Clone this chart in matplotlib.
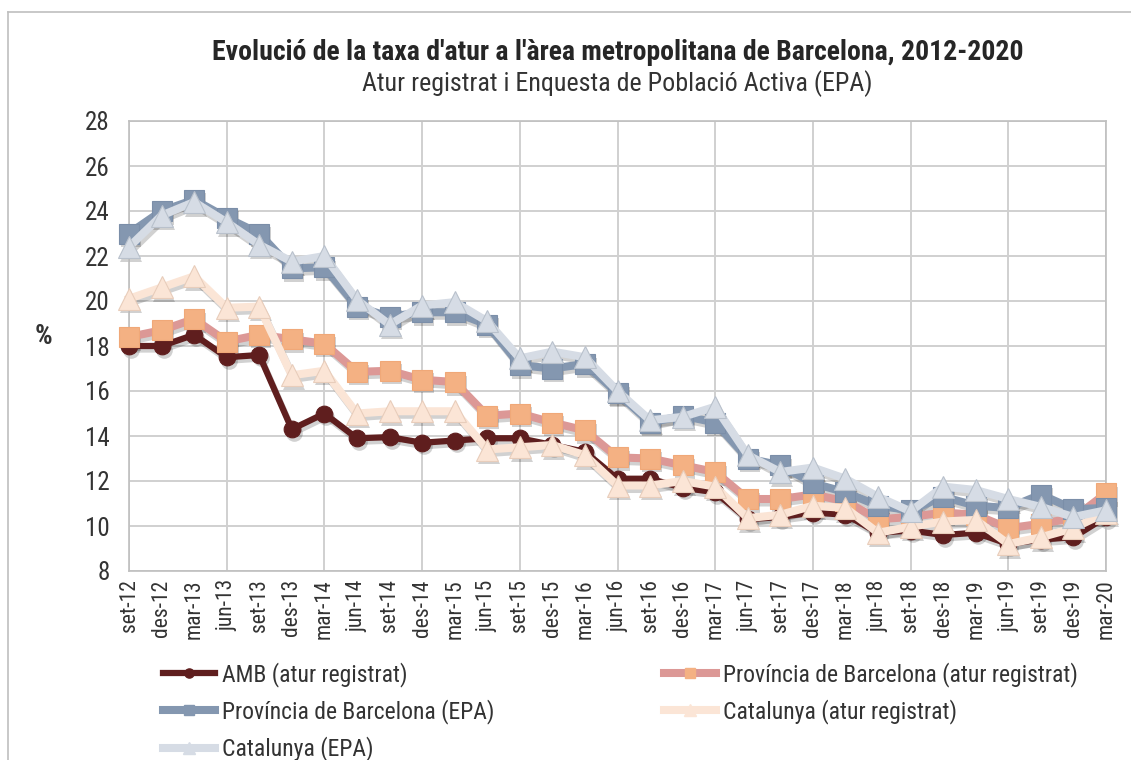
import matplotlib
matplotlib.use('Agg')
import matplotlib.pyplot as plt
from matplotlib.transforms import offset_copy
from matplotlib.lines import Line2D
from matplotlib import font_manager

periods = ['set-12', 'des-12', 'mar-13', 'jun-13', 'set-13', 'des-13', 'mar-14', 'jun-14',
           'set-14', 'des-14', 'mar-15', 'jun-15', 'set-15', 'des-15', 'mar-16', 'jun-16',
           'set-16', 'des-16', 'mar-17', 'jun-17', 'set-17', 'des-17', 'mar-18', 'jun-18',
           'set-18', 'des-18', 'mar-19', 'jun-19', 'set-19', 'des-19', 'mar-20']

amb_registrat = [18.0, 18.0, 18.5, 17.5, 17.6, 14.3, 15.0, 13.9, 13.95, 13.7, 13.8, 13.9, 13.9,
                 13.6, 13.3, 12.1, 12.1, 11.7, 11.5, 10.3, 10.4, 10.6, 10.5, 9.7, 9.8, 9.6, 9.7,
                 9.2, 9.4, 9.5, 10.4]
prov_registrat = [18.4, 18.7, 19.2, 18.2, 18.5, 18.3, 18.1, 16.85, 16.9, 16.5, 16.4, 14.9, 15.0,
                  14.6, 14.25, 13.05, 13.0, 12.7, 12.4, 11.2, 11.2, 11.4, 11.1, 10.3, 10.4, 10.6,
                  10.5, 9.9, 10.1, 10.35, 11.45]
prov_epa = [23.0, 24.0, 24.5, 23.7, 23.0, 21.45, 21.5, 19.75, 19.3, 19.5, 19.5, 18.95, 17.15,
            17.0, 17.2, 15.9, 14.6, 14.9, 14.6, 13.0, 12.7, 11.9, 11.5, 10.9, 10.7, 11.3, 10.9,
            10.8, 11.4, 10.75, 10.8]
cat_registrat = [20.1, 20.6, 21.1, 19.7, 19.75, 16.7, 16.9, 15.0, 15.1, 15.1, 15.1, 13.4, 13.5,
                 13.6, 13.15, 11.8, 11.8, 12.0, 11.75, 10.35, 10.5, 10.9, 10.8, 9.7, 9.97, 10.2,
                 10.27, 9.2, 9.5, 9.9, 10.6]
cat_epa = [22.4, 23.8, 24.4, 23.5, 22.5, 21.75, 22.0, 20.05, 18.95, 19.8, 19.95, 19.1, 17.45,
           17.75, 17.5, 16.0, 14.7, 14.85, 15.3, 13.15, 12.4, 12.6, 12.1, 11.3, 10.65, 11.75,
           11.6, 11.2, 10.85, 10.4, 10.7]

names = ['AMB (atur registrat)', 'Província de Barcelona (atur registrat)',
         'Província de Barcelona (EPA)', 'Catalunya (atur registrat)', 'Catalunya (EPA)']

# line colour, marker face, marker edge, marker, marker size, line width
styles = [
    ('#5f1e1e', '#5f1e1e', '#5f1e1e', 'o', 12, 4.5),
    ('#dc9896', '#f4b183', '#f0a878', 's', 14, 5.8),
    ('#8497b0', '#8497b0', '#7b8ea8', 's', 14, 5.8),
    ('#fbe5d6', '#fbe5d6', '#e8cdbb', '^', 16, 5.8),
    ('#d6dce5', '#d6dce5', '#b9c1cc', '^', 16, 5.8),
]

# prefer a narrow face if one is around
available = {f.name for f in font_manager.fontManager.ttflist}
family = 'DejaVu Sans'
for cand in ['Liberation Sans Narrow', 'DejaVu Sans Condensed', 'Roboto Condensed']:
    if cand in available:
        family = cand
        break
plt.rcParams['font.family'] = [family, 'DejaVu Sans']

W, H = 1131, 760
fig = plt.figure(figsize=(W / 100, H / 100), dpi=100)
ax = fig.add_axes([129 / W, 1 - 571 / H, (1106 - 129) / W, (571 - 121) / H])

x = list(range(len(periods)))
series = [amb_registrat, prov_registrat, prov_epa, cat_registrat, cat_epa]
handles = []
for vals, name, (lc, fc, ec, mk, ms, lw) in zip(series, names, styles):
    shadow = offset_copy(ax.transData, fig=fig, x=2, y=-3.5, units='dots')
    ax.plot(x, vals, color='black', alpha=0.18, lw=lw, marker=mk, ms=ms, mew=0,
            solid_joinstyle='round', transform=shadow, zorder=2, clip_on=False)
    ax.plot(x, vals, color=lc, lw=lw, marker=mk, ms=ms, mfc=fc, mec=ec, mew=0.8,
            solid_joinstyle='round', zorder=3, clip_on=False)
    handles.append(Line2D([], [], color=lc, lw=lw, marker=mk, ms=ms * 0.55,
                          mfc=fc, mec=fc, label=name))

ax.set_xlim(0, len(periods) - 1)
ax.set_ylim(8, 28)
ax.set_yticks(range(8, 29, 2))
ax.set_xticks(x)
ax.set_xticklabels(periods, rotation=90, fontsize=15.5, color='#333333')
ax.tick_params(axis='y', labelsize=18, colors='#333333', length=0, pad=14)
ax.tick_params(axis='x', length=0, pad=6)

grid_c = '#d0d0d0'
for v in range(8, 29, 2):
    ax.axhline(v, color=grid_c, lw=1.4, zorder=1)
for i in range(0, len(periods), 3):
    ax.axvline(i, color=grid_c, lw=1.4, zorder=1)
for s in ax.spines.values():
    s.set_color('#bfbfbf')
    s.set_linewidth(1.2)

fig.text(43 / W, 1 - 337 / H, '%', fontsize=20, fontweight='bold', color='#333333',
         ha='center', va='center')

cx = (129 + 1106) / 2 / W
fig.text(cx, 1 - 52 / H, "Evolució de la taxa d'atur a l'àrea metropolitana de Barcelona, 2012-2020",
         fontsize=20, fontweight='bold', color='#262626', ha='center', va='center')
fig.text(cx, 1 - 84 / H, 'Atur registrat i Enquesta de Població Activa (EPA)',
         fontsize=18.7, color='#333333', ha='center', va='center')

# legend fills column-wise, so reorder to read row by row
order = [0, 2, 4, 1, 3]
leg = fig.legend([handles[i] for i in order], [names[i] for i in order], ncol=2,
                 loc='upper left', bbox_to_anchor=(163 / W, 1 - 662 / H), frameon=False,
                 borderpad=0, borderaxespad=0,
                 fontsize=17, handlelength=2.2, handletextpad=0.3, columnspacing=7.2,
                 labelspacing=0.52, labelcolor='#333333')

# outer chart frame
fig.add_artist(Line2D([8 / W, 1], [1 - 12 / H, 1 - 12 / H], color='#bfbfbf', lw=1.2,
                      transform=fig.transFigure))
fig.add_artist(Line2D([8 / W, 8 / W], [0, 1 - 12 / H], color='#bfbfbf', lw=1.2,
                      transform=fig.transFigure))

fig.savefig('out.png', dpi=100)
